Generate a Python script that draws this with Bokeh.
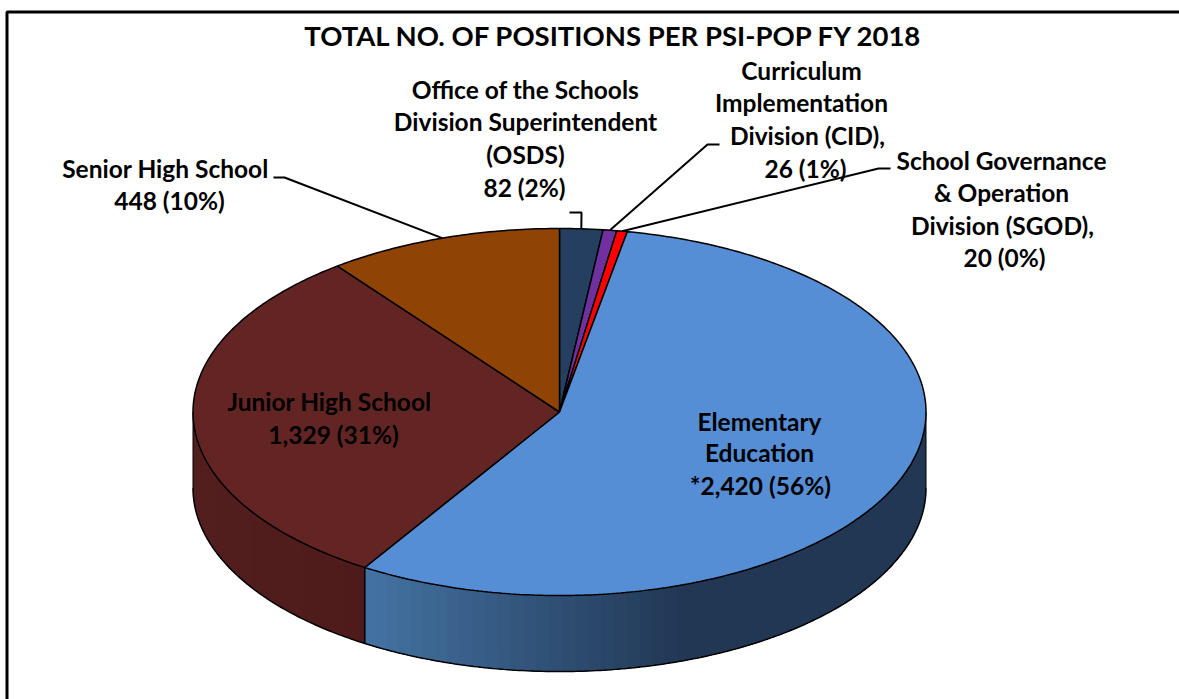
from bokeh.plotting import figure
from bokeh.embed import file_html
from bokeh.resources import INLINE
from bokeh.core.properties import value
from bokeh.models import Range1d
import numpy as np

names = ["OSDS", "CID", "SGOD", "Elementary", "JHS", "SHS"]
counts = [82, 26, 20, 2420, 1329, 448]
top_colors = ["#243f60", "#7030a0", "#ff0000", "#558ed5", "#632523", "#8f4305"]

title = [("TOTAL NO. OF POSITIONS PER PSI-POP FY 2018", 613.5, 35)]
labels = [
    ("Office of the Schools", 525, 89),
    ("Division Superintendent", 525, 121),
    ("(OSDS)", 525, 154),
    ("82  (2%)", 527, 187),
    ("Curriculum", 801, 70),
    ("Implementation", 801, 102),
    ("Division (CID),", 807, 135),
    ("26 (1%)", 805, 168),
    ("School Governance", 1001, 160),
    ("& Operation", 1001, 192),
    ("Division (SGOD),", 1002, 225),
    ("20 (0%)", 1004, 257),
    ("Senior High School", 165, 168),
    ("448 (10%)", 169, 200),
    ("Junior High School", 329, 401),
    ("1,329 (31%)", 333, 434),
    ("Elementary", 759, 421),
    ("Education", 759, 452),
    ("*2,420 (56%)", 760, 485),
]

cx, cy, rx, ry, depth = 559.0, 411.5, 366.5, 183.5, 76.0


def px(t):
    return cx + rx * np.sin(t)


def py(t):
    return cy - ry * np.cos(t)


def lerp_color(c1, c2, f):
    a = [int(c1[i:i + 2], 16) for i in (1, 3, 5)]
    b = [int(c2[i:i + 2], 16) for i in (1, 3, 5)]
    return "#%02x%02x%02x" % tuple(int(round(a[i] + (b[i] - a[i]) * f)) for i in range(3))


p = figure(width=1179, height=699, output_backend="svg", toolbar_location=None,
           x_range=Range1d(0, 1179), y_range=Range1d(699, 0),
           min_border=0, outline_line_color=None)
p.axis.visible = False
p.grid.visible = False
p.background_fill_color = "white"

# frame
p.line([6.5, 6.5, 1179], [699, 11.5, 11.5], line_color="black", line_width=3)

fracs = np.array(counts) / sum(counts)
edges = np.concatenate([[0], np.cumsum(fracs)]) * 2 * np.pi
el0, el1 = edges[3], edges[4]
vis0, vis1 = np.pi / 2, 3 * np.pi / 2


def wall(t0, t1, n, color_of):
    # painted from the far end back; each strip covers the remainder, so no seams
    ts = np.linspace(t0, t1, n + 1)
    for a, b in zip(ts[:-1], ts[1:]):
        t = np.linspace(a, t1, max(int((t1 - a) * 60), 3))
        xs = np.concatenate([px(t), px(t)[::-1]])
        ys = np.concatenate([py(t), py(t)[::-1] + depth])
        p.patch(xs, ys, fill_color=color_of(px((a + b) / 2)), line_color=None)


wall(vis0, el1, 60,
     lambda mx: lerp_color("#4473a3", "#213754", float(np.clip((mx - px(el1)) / 320.0, 0, 1))))
wall(el1, vis1, 14,
     lambda mx: lerp_color("#4f1b1a", "#531e1e", float(np.clip((px(el1) - mx) / 172.0, 0, 1))))

# side outlines
t = np.linspace(vis0, vis1, 300)
p.line(px(t), py(t) + depth, line_color="black", line_width=1.5)
p.line([px(vis0)] * 2, [py(vis0), py(vis0) + depth], line_color="black", line_width=1)
p.line([px(vis1)] * 2, [py(vis1), py(vis1) + depth], line_color="black", line_width=1)
p.line([px(el1)] * 2, [py(el1), py(el1) + depth], line_color="black", line_width=1.5)

# top slices
for i in range(len(counts)):
    n = max(int((edges[i + 1] - edges[i]) * 80), 4)
    t = np.linspace(edges[i], edges[i + 1], n)
    xs = np.concatenate([[cx], px(t)])
    ys = np.concatenate([[cy], py(t)])
    p.patch(xs, ys, fill_color=top_colors[i], line_color="black", line_width=1.5)

# leader lines anchored on slices' mid angle
mid = (edges[:-1] + edges[1:]) / 2
p.line([273, 284, px(mid[5])], [177, 177, py(mid[5])], line_color="black", line_width=2)
p.line([569, 581, px(mid[0])], [212, 212, py(mid[0])], line_color="black", line_width=2)
p.line([719, 707, px(mid[1])], [144, 144, py(mid[1])], line_color="black", line_width=2)
p.line([890, 878, px(mid[2])], [168, 168, py(mid[2])], line_color="black", line_width=2)

# labels
p.text([l[1] for l in labels], [l[2] for l in labels], text=[l[0] for l in labels],
       text_font=value("Lato"), text_font_style="bold", text_font_size="24.5px",
       text_color="black", text_align="center", text_baseline="middle")
p.text([l[1] for l in title], [l[2] for l in title], text=[l[0] for l in title],
       text_font=value("Lato"), text_font_style="bold", text_font_size="27.5px",
       text_color="black", text_align="center", text_baseline="middle")

open("out.html", "w").write(file_html(p, INLINE))
